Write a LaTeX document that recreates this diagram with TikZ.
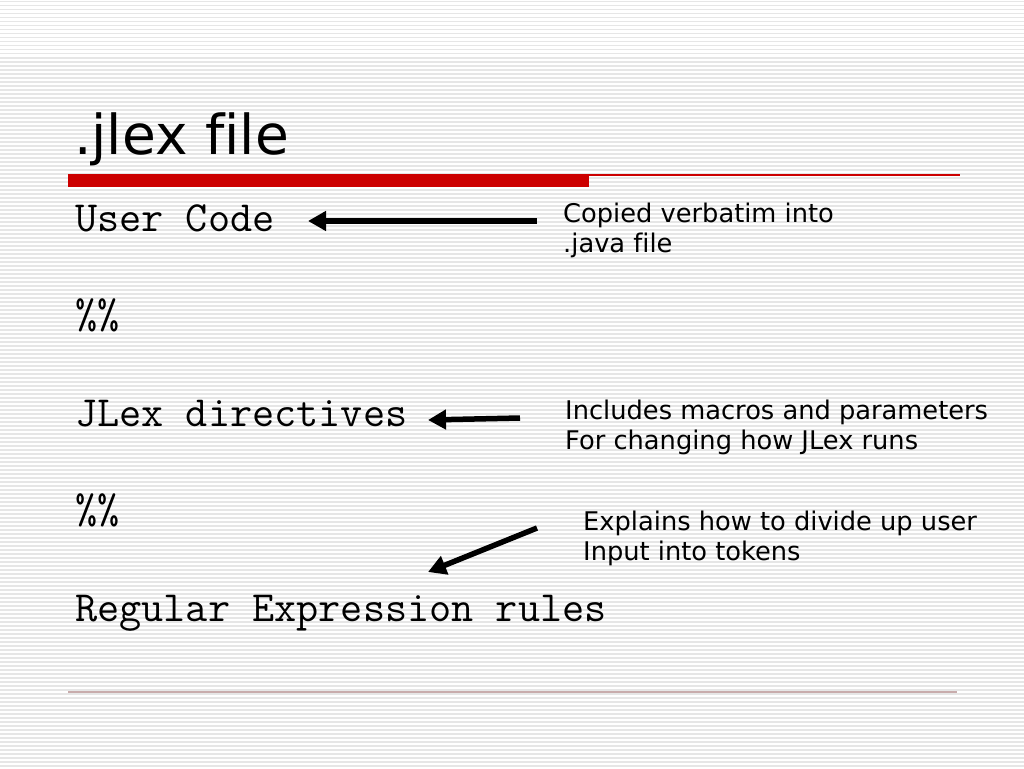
\documentclass[tikz,border=0pt]{standalone}
\usepackage{fontspec}
\setmainfont{DejaVu Sans}[Ligatures=NoCommon]
\usetikzlibrary{arrows.meta}
\definecolor{stripe}{HTML}{E6E6E6}
\definecolor{barred}{HTML}{CC0000}
\definecolor{footline}{HTML}{C8ACAC}
\tikzset{
  x=1pt, y=-1pt,
  titletext/.style={anchor=base west, inner sep=0pt, font=\fontsize{55}{60}\selectfont},
  codetext/.style={anchor=base west, inner sep=0pt, font=\ttfamily\fontsize{43}{46}\selectfont},
  notetext/.style={anchor=base west, inner sep=0pt, font=\fontsize{25.7}{30}\selectfont},
  thickarrow/.style={line width=5.5pt, -{Triangle[length=18pt,width=19pt]}},
}
\begin{document}
\begin{tikzpicture}
\useasboundingbox (0,0) rectangle (1024,768);
\fill[white] (0,0) rectangle (1024,768);
\foreach \i in {0,...,191} {
  \fill[stripe] (0,{4*\i+1}) rectangle (1024,{4*\i+2.5});
}
% title and rules
\node[titletext] (title) at (74,154) {.jlex file};
\fill[barred] (68,174) rectangle (589,187);
\draw[barred, line width=1.3pt] (589,175) -- (960,175);
\draw[footline, line width=1.5pt] (68,692) -- (957,692);
% code lines
\node[codetext] (uc) at (75,231) {User Code};
\node[codetext] (pp1) at (75,328) {\%\%};
\node[codetext] (jd) at (75,426) {JLex directives};
\node[codetext] (pp2) at (75,523) {\%\%};
\node[codetext] (re) at (75,621) {Regular Expression rules};
% notes
\node[notetext] (n1a) at (563,222) {Copied verbatim into};
\node[notetext] (n1b) at (563,252) {.java file};
\node[notetext] (n2a) at (565,419) {Includes macros and parameters};
\node[notetext] (n2b) at (565,449) {For changing how JLex runs};
\node[notetext] (n3a) at (583,530) {Explains how to divide up user};
\node[notetext] (n3b) at (583,560) {Input into tokens};
% arrows
\coordinate (a1s) at (537,221);
\coordinate (a1e) at (308,221);
\coordinate (a2s) at (520,418);
\coordinate (a2e) at (428,420);
\coordinate (a3s) at (537,528);
\coordinate (a3e) at (428,572);
\draw[thickarrow] (a1s) -- (a1e);
\draw[thickarrow] (a2s) -- (a2e);
\draw[thickarrow] (a3s) -- (a3e);
\end{tikzpicture}
\end{document}
